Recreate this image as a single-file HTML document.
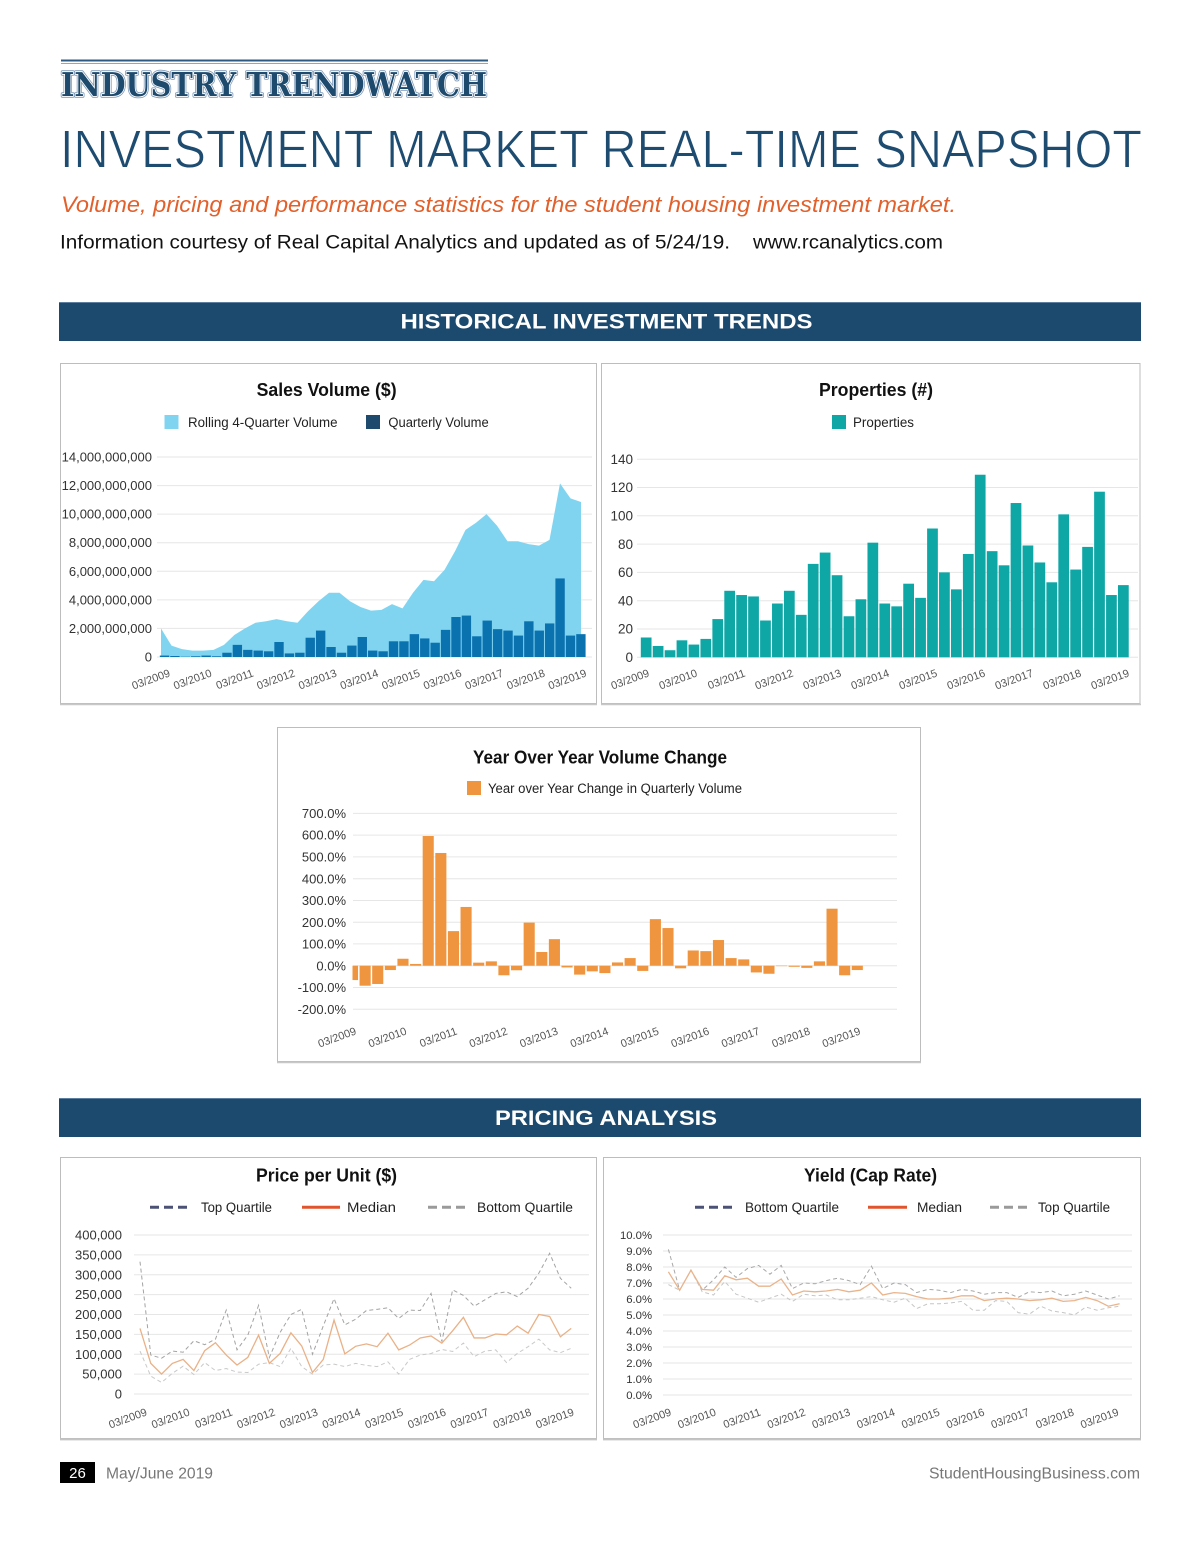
<!DOCTYPE html>
<html>
<head>
<meta charset="utf-8">
<style>
html,body{margin:0;padding:0;background:#fff;}
body{width:1200px;height:1541px;overflow:hidden;}
svg{display:block;font-family:"Liberation Sans",Arial,sans-serif;}
.yl{font-size:12.5px;fill:#333;text-anchor:end;}
.xl{font-size:11px;fill:#555;text-anchor:end;}
.ttl{font-size:18px;font-weight:bold;fill:#111;text-anchor:middle;}
.lg{font-size:13.5px;fill:#222;}
.grid line{stroke:#e6e6e6;stroke-width:1;}
</style>
</head>
<body>
<svg width="1200" height="1541" viewBox="0 0 1200 1541" xmlns="http://www.w3.org/2000/svg">
<defs>
  <clipPath id="yoyclip"><rect x="352.5" y="790" width="560" height="240"/></clipPath>
</defs>

<!-- ===== HEADER ===== -->
<line x1="61" y1="60.5" x2="488" y2="60.5" stroke="#2f5b82" stroke-width="2"/>
<line x1="61" y1="63.5" x2="488" y2="63.5" stroke="#8ea8c3" stroke-width="1"/>
<g font-family="'DejaVu Serif','Liberation Serif',serif" font-weight="bold" font-size="33">
  <text x="61" y="96" textLength="426" lengthAdjust="spacingAndGlyphs" fill="none" stroke="#7f9bba" stroke-width="3.6" stroke-linejoin="round">INDUSTRY TRENDWATCH</text>
  <text x="61" y="96" textLength="426" lengthAdjust="spacingAndGlyphs" fill="none" stroke="#ffffff" stroke-width="1.8" stroke-linejoin="round">INDUSTRY TRENDWATCH</text>
  <text x="61" y="96" textLength="426" lengthAdjust="spacingAndGlyphs" fill="#1d4a6d">INDUSTRY TRENDWATCH</text>
</g>

<text x="60" y="167.5" font-size="54" fill="#1e4c71" stroke="#ffffff" stroke-width="0.9" textLength="1082" lengthAdjust="spacingAndGlyphs">INVESTMENT MARKET REAL-TIME SNAPSHOT</text>
<text x="61" y="212" font-size="22.5" font-style="italic" fill="#e2602b" textLength="895" lengthAdjust="spacingAndGlyphs">Volume, pricing and performance statistics for the student housing investment market.</text>
<text x="60" y="248.5" font-size="19" fill="#111" textLength="670" lengthAdjust="spacingAndGlyphs">Information courtesy of Real Capital Analytics and updated as of 5/24/19.</text>
<text x="753" y="248.5" font-size="19" fill="#111" textLength="190" lengthAdjust="spacingAndGlyphs">www.rcanalytics.com</text>

<!-- Banner 1 -->
<rect x="59" y="302" width="1082" height="39" fill="#1c4a6e"/>
<line x1="59" y1="302.5" x2="1141" y2="302.5" stroke="#5c7f9f" stroke-width="1"/>
<text x="400.5" y="328.5" font-size="21.5" font-weight="bold" fill="#fff" textLength="412" lengthAdjust="spacingAndGlyphs">HISTORICAL INVESTMENT TRENDS</text>

<!-- ===== SALES VOLUME BOX ===== -->
<rect x="60.5" y="363.5" width="536" height="340" fill="#fff" stroke="#bdbdbd" stroke-width="1"/>
<line x1="60" y1="704.5" x2="597" y2="704.5" stroke="#c8c8c8" stroke-width="1.5"/>
<text class="ttl" x="326.6" y="396" textLength="140" lengthAdjust="spacingAndGlyphs">Sales Volume ($)</text>
<rect x="164.5" y="415" width="14" height="14" fill="#81d4f0"/>
<text class="lg" x="188" y="427" textLength="149.5" lengthAdjust="spacingAndGlyphs">Rolling 4-Quarter Volume</text>
<rect x="366" y="415" width="14" height="14" fill="#1d4a6d"/>
<text class="lg" x="388.4" y="427" textLength="100.3" lengthAdjust="spacingAndGlyphs">Quarterly Volume</text>

<g class="grid">
  <line x1="157" y1="628.4" x2="592" y2="628.4"/>
  <line x1="157" y1="599.9" x2="592" y2="599.9"/>
  <line x1="157" y1="571.3" x2="592" y2="571.3"/>
  <line x1="157" y1="542.7" x2="592" y2="542.7"/>
  <line x1="157" y1="514.1" x2="592" y2="514.1"/>
  <line x1="157" y1="485.6" x2="592" y2="485.6"/>
  <line x1="157" y1="457" x2="592" y2="457"/>
  <line x1="157" y1="657" x2="592" y2="657"/>
</g>
<g class="yl" style="font-size:13px">
  <text x="152" y="661.5">0</text>
  <text x="152" y="632.9">2,000,000,000</text>
  <text x="152" y="604.4">4,000,000,000</text>
  <text x="152" y="575.8">6,000,000,000</text>
  <text x="152" y="547.2">8,000,000,000</text>
  <text x="152" y="518.6">10,000,000,000</text>
  <text x="152" y="490.1">12,000,000,000</text>
  <text x="152" y="461.5">14,000,000,000</text>
</g>
<g transform="translate(161,657) scale(10.5,-14.286)">
  <polygon fill="#81d4f0" points="0,0 0,2.0 1,0.8 2,0.55 3,0.45 4,0.45 5,0.5 6,0.85 7,1.55 8,2.0 9,2.4 10,2.5 11,2.65 12,2.5 13,2.4 14,3.2 15,3.9 16,4.5 17,4.5 18,3.9 19,3.5 20,3.25 21,3.3 22,3.7 23,3.4 24,4.5 25,5.4 26,5.3 27,6.1 28,7.4 29,8.9 30,9.4 31,10.0 32,9.2 33,8.1 34,8.1 35,7.9 36,7.8 37,8.2 38,12.15 39,11.1 40,10.85 40,0"/>
</g>
<g transform="translate(159.3,657) scale(10.41,-14.286)" fill="#0b72b0">
  <rect x="0.05" y="0" width="0.9" height="0.1"/>
  <rect x="1.05" y="0" width="0.9" height="0.07"/>
  <rect x="2.05" y="0" width="0.9" height="0.02"/>
  <rect x="3.05" y="0" width="0.9" height="0.05"/>
  <rect x="4.05" y="0" width="0.9" height="0.1"/>
  <rect x="5.05" y="0" width="0.9" height="0.05"/>
  <rect x="6.05" y="0" width="0.9" height="0.3"/>
  <rect x="7.05" y="0" width="0.9" height="0.85"/>
  <rect x="8.05" y="0" width="0.9" height="0.5"/>
  <rect x="9.05" y="0" width="0.9" height="0.45"/>
  <rect x="10.05" y="0" width="0.9" height="0.4"/>
  <rect x="11.05" y="0" width="0.9" height="1.05"/>
  <rect x="12.05" y="0" width="0.9" height="0.25"/>
  <rect x="13.05" y="0" width="0.9" height="0.3"/>
  <rect x="14.05" y="0" width="0.9" height="1.35"/>
  <rect x="15.05" y="0" width="0.9" height="1.85"/>
  <rect x="16.05" y="0" width="0.9" height="0.7"/>
  <rect x="17.05" y="0" width="0.9" height="0.3"/>
  <rect x="18.05" y="0" width="0.9" height="0.8"/>
  <rect x="19.05" y="0" width="0.9" height="1.4"/>
  <rect x="20.05" y="0" width="0.9" height="0.45"/>
  <rect x="21.05" y="0" width="0.9" height="0.4"/>
  <rect x="22.05" y="0" width="0.9" height="1.1"/>
  <rect x="23.05" y="0" width="0.9" height="1.1"/>
  <rect x="24.05" y="0" width="0.9" height="1.6"/>
  <rect x="25.05" y="0" width="0.9" height="1.3"/>
  <rect x="26.05" y="0" width="0.9" height="1.0"/>
  <rect x="27.05" y="0" width="0.9" height="1.9"/>
  <rect x="28.05" y="0" width="0.9" height="2.8"/>
  <rect x="29.05" y="0" width="0.9" height="2.9"/>
  <rect x="30.05" y="0" width="0.9" height="1.45"/>
  <rect x="31.05" y="0" width="0.9" height="2.55"/>
  <rect x="32.05" y="0" width="0.9" height="1.95"/>
  <rect x="33.05" y="0" width="0.9" height="1.85"/>
  <rect x="34.05" y="0" width="0.9" height="1.5"/>
  <rect x="35.05" y="0" width="0.9" height="2.5"/>
  <rect x="36.05" y="0" width="0.9" height="1.85"/>
  <rect x="37.05" y="0" width="0.9" height="2.35"/>
  <rect x="38.05" y="0" width="0.9" height="5.5"/>
  <rect x="39.05" y="0" width="0.9" height="1.5"/>
  <rect x="40.05" y="0" width="0.9" height="1.6"/>
</g>
<g class="xl">
  <text transform="translate(170.9,676) rotate(-20)">03/2009</text>
  <text transform="translate(212.5,676) rotate(-20)">03/2010</text>
  <text transform="translate(254.2,676) rotate(-20)">03/2011</text>
  <text transform="translate(295.8,676) rotate(-20)">03/2012</text>
  <text transform="translate(337.5,676) rotate(-20)">03/2013</text>
  <text transform="translate(379.1,676) rotate(-20)">03/2014</text>
  <text transform="translate(420.7,676) rotate(-20)">03/2015</text>
  <text transform="translate(462.4,676) rotate(-20)">03/2016</text>
  <text transform="translate(504,676) rotate(-20)">03/2017</text>
  <text transform="translate(545.7,676) rotate(-20)">03/2018</text>
  <text transform="translate(587.3,676) rotate(-20)">03/2019</text>
</g>

<!-- ===== PROPERTIES BOX ===== -->
<rect x="601.5" y="363.5" width="538.5" height="340" fill="#fff" stroke="#bdbdbd" stroke-width="1"/>
<line x1="601" y1="704.5" x2="1141" y2="704.5" stroke="#c8c8c8" stroke-width="1.5"/>
<text class="ttl" x="876" y="396" textLength="114" lengthAdjust="spacingAndGlyphs">Properties (#)</text>
<rect x="832" y="415" width="14" height="14" fill="#0fa6a6"/>
<text class="lg" x="853" y="427" textLength="61" lengthAdjust="spacingAndGlyphs">Properties</text>

<g class="grid">
  <line x1="637" y1="629" x2="1138" y2="629"/>
  <line x1="637" y1="600.7" x2="1138" y2="600.7"/>
  <line x1="637" y1="572.4" x2="1138" y2="572.4"/>
  <line x1="637" y1="544.1" x2="1138" y2="544.1"/>
  <line x1="637" y1="515.8" x2="1138" y2="515.8"/>
  <line x1="637" y1="487.5" x2="1138" y2="487.5"/>
  <line x1="637" y1="459.2" x2="1138" y2="459.2"/>
  <line x1="637" y1="657.3" x2="1138" y2="657.3"/>
</g>
<g class="yl" style="font-size:13.5px">
  <text x="633" y="662">0</text>
  <text x="633" y="633.7">20</text>
  <text x="633" y="605.4">40</text>
  <text x="633" y="577.1">60</text>
  <text x="633" y="548.8">80</text>
  <text x="633" y="520.5">100</text>
  <text x="633" y="492.2">120</text>
  <text x="633" y="463.9">140</text>
</g>
<g transform="translate(640.2,657.3) scale(11.93,-1.4153)" fill="#0fa6a6">
  <rect x="0.05" y="0" width="0.9" height="14"/>
  <rect x="1.05" y="0" width="0.9" height="8"/>
  <rect x="2.05" y="0" width="0.9" height="5"/>
  <rect x="3.05" y="0" width="0.9" height="12"/>
  <rect x="4.05" y="0" width="0.9" height="9"/>
  <rect x="5.05" y="0" width="0.9" height="13"/>
  <rect x="6.05" y="0" width="0.9" height="27"/>
  <rect x="7.05" y="0" width="0.9" height="47"/>
  <rect x="8.05" y="0" width="0.9" height="44"/>
  <rect x="9.05" y="0" width="0.9" height="43"/>
  <rect x="10.05" y="0" width="0.9" height="26"/>
  <rect x="11.05" y="0" width="0.9" height="38"/>
  <rect x="12.05" y="0" width="0.9" height="47"/>
  <rect x="13.05" y="0" width="0.9" height="30"/>
  <rect x="14.05" y="0" width="0.9" height="66"/>
  <rect x="15.05" y="0" width="0.9" height="74"/>
  <rect x="16.05" y="0" width="0.9" height="58"/>
  <rect x="17.05" y="0" width="0.9" height="29"/>
  <rect x="18.05" y="0" width="0.9" height="41"/>
  <rect x="19.05" y="0" width="0.9" height="81"/>
  <rect x="20.05" y="0" width="0.9" height="38"/>
  <rect x="21.05" y="0" width="0.9" height="36"/>
  <rect x="22.05" y="0" width="0.9" height="52"/>
  <rect x="23.05" y="0" width="0.9" height="42"/>
  <rect x="24.05" y="0" width="0.9" height="91"/>
  <rect x="25.05" y="0" width="0.9" height="60"/>
  <rect x="26.05" y="0" width="0.9" height="48"/>
  <rect x="27.05" y="0" width="0.9" height="73"/>
  <rect x="28.05" y="0" width="0.9" height="129"/>
  <rect x="29.05" y="0" width="0.9" height="75"/>
  <rect x="30.05" y="0" width="0.9" height="65"/>
  <rect x="31.05" y="0" width="0.9" height="109"/>
  <rect x="32.05" y="0" width="0.9" height="79"/>
  <rect x="33.05" y="0" width="0.9" height="67"/>
  <rect x="34.05" y="0" width="0.9" height="53"/>
  <rect x="35.05" y="0" width="0.9" height="101"/>
  <rect x="36.05" y="0" width="0.9" height="62"/>
  <rect x="37.05" y="0" width="0.9" height="78"/>
  <rect x="38.05" y="0" width="0.9" height="117"/>
  <rect x="39.05" y="0" width="0.9" height="44"/>
  <rect x="40.05" y="0" width="0.9" height="51"/>
</g>
<g class="xl">
  <text transform="translate(650,676) rotate(-20)">03/2009</text>
  <text transform="translate(698,676) rotate(-20)">03/2010</text>
  <text transform="translate(746,676) rotate(-20)">03/2011</text>
  <text transform="translate(794,676) rotate(-20)">03/2012</text>
  <text transform="translate(842,676) rotate(-20)">03/2013</text>
  <text transform="translate(890,676) rotate(-20)">03/2014</text>
  <text transform="translate(938,676) rotate(-20)">03/2015</text>
  <text transform="translate(986,676) rotate(-20)">03/2016</text>
  <text transform="translate(1034,676) rotate(-20)">03/2017</text>
  <text transform="translate(1082,676) rotate(-20)">03/2018</text>
  <text transform="translate(1130,676) rotate(-20)">03/2019</text>
</g>

<!-- ===== YOY BOX ===== -->
<rect x="277.5" y="727.5" width="643" height="334" fill="#fff" stroke="#bdbdbd" stroke-width="1"/>
<line x1="277" y1="1062.5" x2="921" y2="1062.5" stroke="#c8c8c8" stroke-width="1.5"/>
<text class="ttl" x="600" y="763.5" textLength="254" lengthAdjust="spacingAndGlyphs">Year Over Year Volume Change</text>
<rect x="467" y="781" width="14" height="14" fill="#f0953f"/>
<text class="lg" x="488" y="793" textLength="254" lengthAdjust="spacingAndGlyphs">Year over Year Change in Quarterly Volume</text>

<g class="grid">
  <line x1="353" y1="813.4" x2="897" y2="813.4"/>
  <line x1="353" y1="835.1" x2="897" y2="835.1"/>
  <line x1="353" y1="856.9" x2="897" y2="856.9"/>
  <line x1="353" y1="878.7" x2="897" y2="878.7"/>
  <line x1="353" y1="900.5" x2="897" y2="900.5"/>
  <line x1="353" y1="922.2" x2="897" y2="922.2"/>
  <line x1="353" y1="943.9" x2="897" y2="943.9"/>
  <line x1="353" y1="965.7" x2="897" y2="965.7"/>
  <line x1="353" y1="987.5" x2="897" y2="987.5"/>
  <line x1="353" y1="1009.2" x2="897" y2="1009.2"/>
</g>
<g class="yl" style="font-size:13px">
  <text x="346" y="818">700.0%</text>
  <text x="346" y="839.7">600.0%</text>
  <text x="346" y="861.5">500.0%</text>
  <text x="346" y="883.3">400.0%</text>
  <text x="346" y="905.1">300.0%</text>
  <text x="346" y="926.8">200.0%</text>
  <text x="346" y="948.5">100.0%</text>
  <text x="346" y="970.3">0.0%</text>
  <text x="346" y="992.1">-100.0%</text>
  <text x="346" y="1013.8">-200.0%</text>
</g>
<g clip-path="url(#yoyclip)">
<g transform="translate(352.5,965.7) scale(12.62,-0.2176)" fill="#f0953f">
  <rect x="-0.44" y="-66" width="0.88" height="66"/>
  <rect x="0.56" y="-92" width="0.88" height="92"/>
  <rect x="1.56" y="-84" width="0.88" height="84"/>
  <rect x="2.56" y="-20" width="0.88" height="20"/>
  <rect x="3.56" y="0" width="0.88" height="32"/>
  <rect x="4.56" y="0" width="0.88" height="8"/>
  <rect x="5.56" y="0" width="0.88" height="596"/>
  <rect x="6.56" y="0" width="0.88" height="518"/>
  <rect x="7.56" y="0" width="0.88" height="159"/>
  <rect x="8.56" y="0" width="0.88" height="270"/>
  <rect x="9.56" y="0" width="0.88" height="14"/>
  <rect x="10.56" y="0" width="0.88" height="20"/>
  <rect x="11.56" y="-44" width="0.88" height="44"/>
  <rect x="12.56" y="-21" width="0.88" height="21"/>
  <rect x="13.56" y="0" width="0.88" height="198"/>
  <rect x="14.56" y="0" width="0.88" height="63"/>
  <rect x="15.56" y="0" width="0.88" height="122"/>
  <rect x="16.56" y="-8" width="0.88" height="8"/>
  <rect x="17.56" y="-41" width="0.88" height="41"/>
  <rect x="18.56" y="-26" width="0.88" height="26"/>
  <rect x="19.56" y="-34" width="0.88" height="34"/>
  <rect x="20.56" y="0" width="0.88" height="15"/>
  <rect x="21.56" y="0" width="0.88" height="35"/>
  <rect x="22.56" y="-24" width="0.88" height="24"/>
  <rect x="23.56" y="0" width="0.88" height="214"/>
  <rect x="24.56" y="0" width="0.88" height="173"/>
  <rect x="25.56" y="-12" width="0.88" height="12"/>
  <rect x="26.56" y="0" width="0.88" height="70"/>
  <rect x="27.56" y="0" width="0.88" height="67"/>
  <rect x="28.56" y="0" width="0.88" height="118"/>
  <rect x="29.56" y="0" width="0.88" height="35"/>
  <rect x="30.56" y="0" width="0.88" height="29"/>
  <rect x="31.56" y="-31" width="0.88" height="31"/>
  <rect x="32.56" y="-37" width="0.88" height="37"/>
  <rect x="33.56" y="-2" width="0.88" height="2"/>
  <rect x="34.56" y="-5" width="0.88" height="5"/>
  <rect x="35.56" y="-10" width="0.88" height="10"/>
  <rect x="36.56" y="0" width="0.88" height="20"/>
  <rect x="37.56" y="0" width="0.88" height="262"/>
  <rect x="38.56" y="-44" width="0.88" height="44"/>
  <rect x="39.56" y="-20" width="0.88" height="20"/>
</g>
</g>
<g class="xl">
  <text transform="translate(357,1034) rotate(-20)">03/2009</text>
  <text transform="translate(407.4,1034) rotate(-20)">03/2010</text>
  <text transform="translate(457.9,1034) rotate(-20)">03/2011</text>
  <text transform="translate(508.3,1034) rotate(-20)">03/2012</text>
  <text transform="translate(558.7,1034) rotate(-20)">03/2013</text>
  <text transform="translate(609.2,1034) rotate(-20)">03/2014</text>
  <text transform="translate(659.6,1034) rotate(-20)">03/2015</text>
  <text transform="translate(710,1034) rotate(-20)">03/2016</text>
  <text transform="translate(760.4,1034) rotate(-20)">03/2017</text>
  <text transform="translate(810.9,1034) rotate(-20)">03/2018</text>
  <text transform="translate(861.3,1034) rotate(-20)">03/2019</text>
</g>

<!-- Banner 2 -->
<rect x="59" y="1098" width="1082" height="39" fill="#1c4a6e"/>
<line x1="59" y1="1098.5" x2="1141" y2="1098.5" stroke="#5c7f9f" stroke-width="1"/>
<text x="495" y="1125" font-size="21.5" font-weight="bold" fill="#fff" textLength="222" lengthAdjust="spacingAndGlyphs">PRICING ANALYSIS</text>

<!-- ===== PRICE PER UNIT BOX ===== -->
<rect x="60.5" y="1157.5" width="536" height="281" fill="#fff" stroke="#bdbdbd" stroke-width="1"/>
<line x1="60" y1="1439.5" x2="597" y2="1439.5" stroke="#c4c4c4" stroke-width="1.8"/>
<text class="ttl" x="326.5" y="1181.5" textLength="141" lengthAdjust="spacingAndGlyphs">Price per Unit ($)</text>
<line x1="150" y1="1207.3" x2="191" y2="1207.3" stroke="#4b5275" stroke-width="3" stroke-dasharray="9,5"/>
<text class="lg" x="201" y="1212" textLength="71" lengthAdjust="spacingAndGlyphs">Top Quartile</text>
<line x1="302" y1="1207.3" x2="340" y2="1207.3" stroke="#e0552e" stroke-width="3"/>
<text class="lg" x="347" y="1212" textLength="49" lengthAdjust="spacingAndGlyphs">Median</text>
<line x1="428" y1="1207.3" x2="469" y2="1207.3" stroke="#9a9a9a" stroke-width="3" stroke-dasharray="9,5"/>
<text class="lg" x="477" y="1212" textLength="96" lengthAdjust="spacingAndGlyphs">Bottom Quartile</text>

<g class="grid">
  <line x1="134" y1="1235" x2="589" y2="1235"/>
  <line x1="134" y1="1254.9" x2="589" y2="1254.9"/>
  <line x1="134" y1="1274.8" x2="589" y2="1274.8"/>
  <line x1="134" y1="1294.6" x2="589" y2="1294.6"/>
  <line x1="134" y1="1314.5" x2="589" y2="1314.5"/>
  <line x1="134" y1="1334.4" x2="589" y2="1334.4"/>
  <line x1="134" y1="1354.3" x2="589" y2="1354.3"/>
  <line x1="134" y1="1374.1" x2="589" y2="1374.1"/>
  <line x1="134" y1="1394" x2="589" y2="1394"/>
</g>
<g class="yl" style="font-size:13px">
  <text x="122" y="1239.5">400,000</text>
  <text x="122" y="1259.4">350,000</text>
  <text x="122" y="1279.3">300,000</text>
  <text x="122" y="1299.1">250,000</text>
  <text x="122" y="1319">200,000</text>
  <text x="122" y="1338.9">150,000</text>
  <text x="122" y="1358.8">100,000</text>
  <text x="122" y="1378.6">50,000</text>
  <text x="122" y="1398.5">0</text>
</g>
<g transform="translate(140,1394) scale(10.78,-0.3975)" fill="none">
  <polyline vector-effect="non-scaling-stroke" stroke="#a3a3a3" stroke-width="1" stroke-dasharray="4,3" points="0,333 1,98 2,90 3,108 4,105 5,134 6,124 7,138 8,211 9,111 10,148 11,223 12,92 13,155 14,200 15,213 16,100 17,171 18,240 19,174 20,188 21,210 22,213 23,217 24,190 25,211 26,210 27,253 28,132 29,262 30,248 31,221 32,237 33,253 34,257 35,245 36,266 37,304 38,354 39,291 40,266"/>
  <polyline vector-effect="non-scaling-stroke" stroke="#c9c9c9" stroke-width="1" stroke-dasharray="4,3" points="0,108 1,45 2,29 3,52 4,70 5,49 6,79 7,59 8,64 9,55 10,54 11,75 12,79 13,69 14,115 15,69 16,50 17,73 18,75 19,69 20,77 21,72 22,69 23,81 24,50 25,87 26,98 27,102 28,112 29,107 30,128 31,94 32,108 33,111 34,79 35,102 36,119 37,138 38,111 39,104 40,115"/>
  <polyline vector-effect="non-scaling-stroke" stroke="#e9b187" stroke-width="1.3" points="0,165 1,77 2,50 3,77 4,87 5,59 6,109 7,129 8,98 9,73 10,92 11,148 12,77 13,102 14,154 15,121 16,54 17,87 18,186 19,101 20,120 21,126 22,119 23,153 24,111 25,123 26,141 27,146 28,128 29,159 30,193 31,141 32,141 33,151 34,149 35,171 36,153 37,200 38,195 39,144 40,165"/>
</g>
<g class="xl">
  <text transform="translate(147.8,1415) rotate(-20)">03/2009</text>
  <text transform="translate(190.5,1415) rotate(-20)">03/2010</text>
  <text transform="translate(233.2,1415) rotate(-20)">03/2011</text>
  <text transform="translate(275.9,1415) rotate(-20)">03/2012</text>
  <text transform="translate(318.6,1415) rotate(-20)">03/2013</text>
  <text transform="translate(361.3,1415) rotate(-20)">03/2014</text>
  <text transform="translate(404,1415) rotate(-20)">03/2015</text>
  <text transform="translate(446.7,1415) rotate(-20)">03/2016</text>
  <text transform="translate(489.4,1415) rotate(-20)">03/2017</text>
  <text transform="translate(532.1,1415) rotate(-20)">03/2018</text>
  <text transform="translate(574.8,1415) rotate(-20)">03/2019</text>
</g>

<!-- ===== YIELD BOX ===== -->
<rect x="603.5" y="1157.5" width="537" height="281" fill="#fff" stroke="#bdbdbd" stroke-width="1"/>
<line x1="603" y1="1439.5" x2="1141" y2="1439.5" stroke="#c4c4c4" stroke-width="1.8"/>
<text class="ttl" x="870.5" y="1181.5" textLength="133" lengthAdjust="spacingAndGlyphs">Yield (Cap Rate)</text>
<line x1="695" y1="1207.3" x2="735" y2="1207.3" stroke="#4b5275" stroke-width="3" stroke-dasharray="9,5"/>
<text class="lg" x="745" y="1212" textLength="94" lengthAdjust="spacingAndGlyphs">Bottom Quartile</text>
<line x1="868" y1="1207.3" x2="907" y2="1207.3" stroke="#e0552e" stroke-width="3"/>
<text class="lg" x="917" y="1212" textLength="45" lengthAdjust="spacingAndGlyphs">Median</text>
<line x1="990" y1="1207.3" x2="1030" y2="1207.3" stroke="#9a9a9a" stroke-width="3" stroke-dasharray="9,5"/>
<text class="lg" x="1038" y="1212" textLength="72" lengthAdjust="spacingAndGlyphs">Top Quartile</text>

<g class="grid">
  <line x1="663" y1="1235" x2="1132" y2="1235"/>
  <line x1="663" y1="1251" x2="1132" y2="1251"/>
  <line x1="663" y1="1267" x2="1132" y2="1267"/>
  <line x1="663" y1="1283" x2="1132" y2="1283"/>
  <line x1="663" y1="1299" x2="1132" y2="1299"/>
  <line x1="663" y1="1315" x2="1132" y2="1315"/>
  <line x1="663" y1="1331" x2="1132" y2="1331"/>
  <line x1="663" y1="1347" x2="1132" y2="1347"/>
  <line x1="663" y1="1363" x2="1132" y2="1363"/>
  <line x1="663" y1="1379" x2="1132" y2="1379"/>
  <line x1="663" y1="1395" x2="1132" y2="1395"/>
</g>
<g class="yl" style="font-size:11.3px">
  <text x="652" y="1239">10.0%</text>
  <text x="652" y="1255">9.0%</text>
  <text x="652" y="1271">8.0%</text>
  <text x="652" y="1287">7.0%</text>
  <text x="652" y="1303">6.0%</text>
  <text x="652" y="1319">5.0%</text>
  <text x="652" y="1335">4.0%</text>
  <text x="652" y="1351">3.0%</text>
  <text x="652" y="1367">2.0%</text>
  <text x="652" y="1383">1.0%</text>
  <text x="652" y="1399">0.0%</text>
</g>
<g transform="translate(668.4,1395) scale(11.28,-16)" fill="none">
  <polyline vector-effect="non-scaling-stroke" stroke="#a8a8a8" stroke-width="1" stroke-dasharray="4,3" points="0,9.1 1,6.55 2,7.8 3,6.55 4,7.2 5,8.0 6,7.35 7,7.9 8,8.1 9,7.55 10,8.1 11,6.65 12,7.0 13,6.95 14,7.15 15,7.3 16,7.15 17,6.9 18,8.05 19,6.65 20,7.0 21,6.9 22,6.4 23,6.6 24,6.55 25,6.4 26,6.6 27,6.5 28,6.3 29,6.4 30,6.4 31,6.1 32,6.45 33,6.4 34,6.5 35,6.2 36,6.3 37,6.5 38,6.25 39,6.0 40,6.2"/>
  <polyline vector-effect="non-scaling-stroke" stroke="#c6c6c6" stroke-width="1" stroke-dasharray="4,3" points="0,6.9 1,6.55 2,7.8 3,6.45 4,6.25 5,7.1 6,6.3 7,6.05 8,5.8 9,6.05 10,6.3 11,5.85 12,6.3 13,6.2 14,6.25 15,5.95 16,5.95 17,6.05 18,6.15 19,5.95 20,5.8 21,6.05 22,5.4 23,5.7 24,5.7 25,5.75 26,5.85 27,5.3 28,5.3 29,5.9 30,5.85 31,5.15 32,5.05 33,5.55 34,5.25 35,5.15 36,5.0 37,5.5 38,5.3 39,5.45 40,5.55"/>
  <polyline vector-effect="non-scaling-stroke" stroke="#e9b48c" stroke-width="1.3" points="0,7.7 1,6.55 2,7.8 3,6.6 4,6.55 5,7.45 6,7.2 7,7.3 8,6.8 9,6.8 10,7.25 11,6.25 12,6.5 13,6.45 14,6.5 15,6.6 16,6.45 17,6.55 18,7.0 19,6.25 20,6.4 21,6.35 22,6.15 23,6.0 24,6.0 25,6.05 26,6.2 27,6.2 28,5.9 29,6.0 30,6.05 31,6.0 32,5.9 33,5.95 34,6.05 35,5.85 36,5.9 37,6.1 38,5.9 39,5.55 40,5.7"/>
</g>
<g class="xl">
  <text transform="translate(672,1415) rotate(-20)">03/2009</text>
  <text transform="translate(716.75,1415) rotate(-20)">03/2010</text>
  <text transform="translate(761.5,1415) rotate(-20)">03/2011</text>
  <text transform="translate(806.25,1415) rotate(-20)">03/2012</text>
  <text transform="translate(851,1415) rotate(-20)">03/2013</text>
  <text transform="translate(895.75,1415) rotate(-20)">03/2014</text>
  <text transform="translate(940.5,1415) rotate(-20)">03/2015</text>
  <text transform="translate(985.25,1415) rotate(-20)">03/2016</text>
  <text transform="translate(1030,1415) rotate(-20)">03/2017</text>
  <text transform="translate(1074.75,1415) rotate(-20)">03/2018</text>
  <text transform="translate(1119.5,1415) rotate(-20)">03/2019</text>
</g>

<!-- ===== FOOTER ===== -->
<rect x="60" y="1462" width="35" height="21" fill="#000"/>
<text x="77.5" y="1478" font-size="15" fill="#fff" text-anchor="middle">26</text>
<text x="106" y="1478.5" font-size="16" fill="#777" textLength="107" lengthAdjust="spacingAndGlyphs">May/June 2019</text>
<text x="929" y="1478.5" font-size="16" fill="#777" textLength="211" lengthAdjust="spacingAndGlyphs">StudentHousingBusiness.com</text>
</svg>
</body>
</html>
